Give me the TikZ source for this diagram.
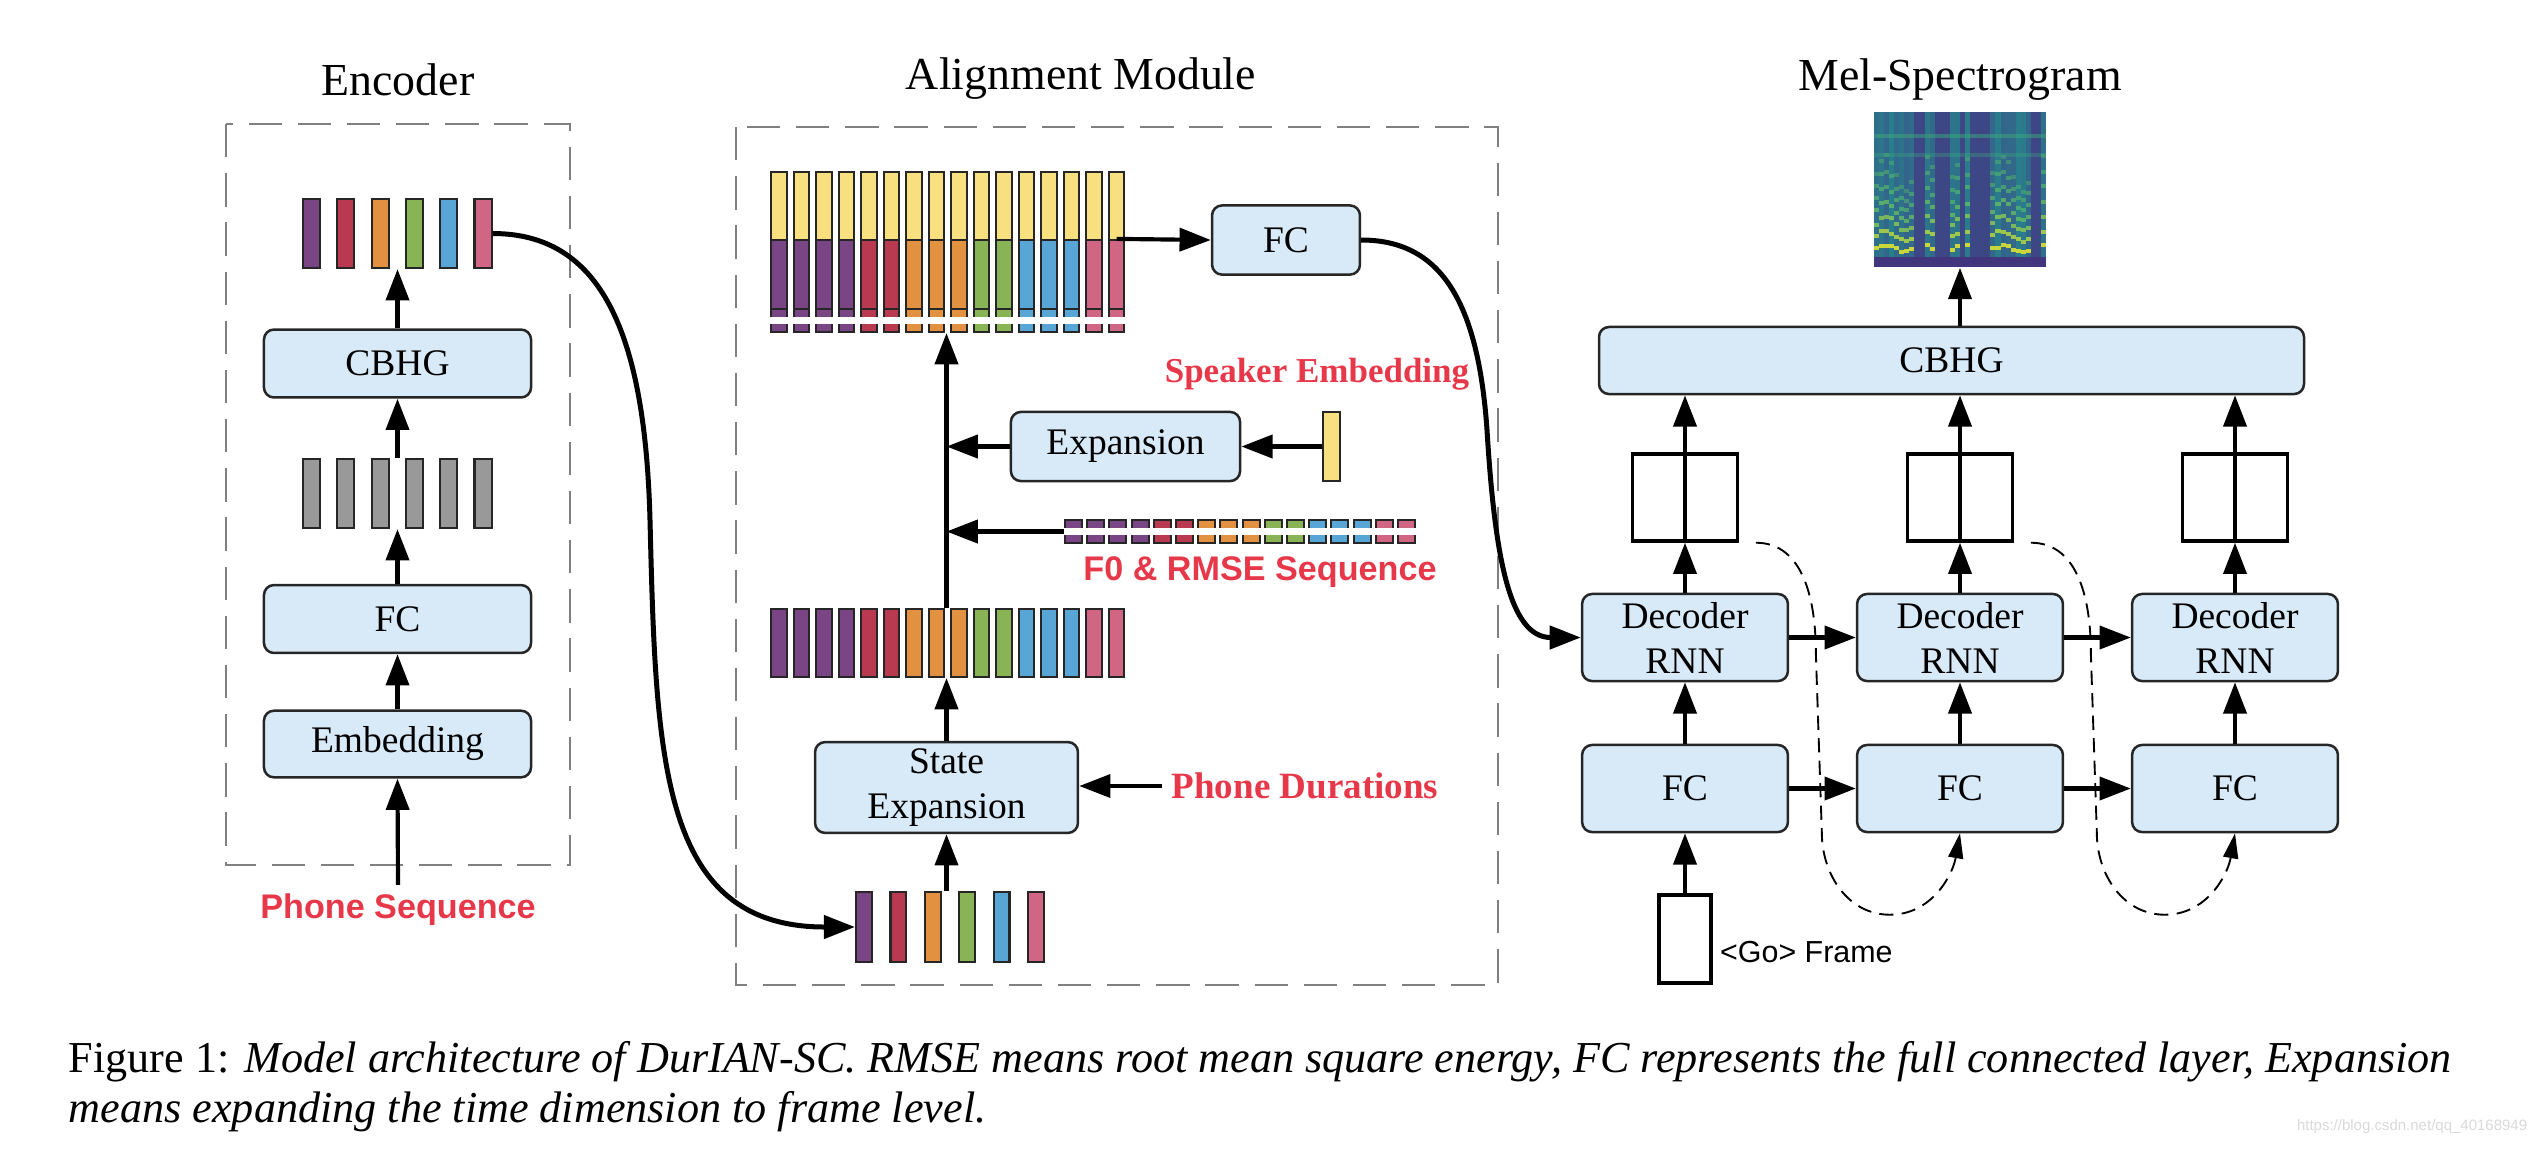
\documentclass[tikz,border=0pt]{standalone}
\usepackage{fontspec}
\setmainfont{Liberation Serif}
\newfontfamily\arialfont{Liberation Sans}
\usetikzlibrary{arrows.meta,positioning}

\definecolor{boxblue}{RGB}{216,234,248}
\definecolor{labelred}{RGB}{231,56,74}
\definecolor{framegray}{RGB}{128,128,128}
\definecolor{cpurple}{RGB}{122,69,132}
\definecolor{cred}{RGB}{185,57,80}
\definecolor{corange}{RGB}{225,145,63}
\definecolor{cgreen}{RGB}{136,180,86}
\definecolor{cblue}{RGB}{88,166,214}
\definecolor{cpink}{RGB}{208,102,132}
\definecolor{cyellow}{RGB}{248,223,128}
\definecolor{cgray}{RGB}{153,153,153}
\definecolor{specblue}{RGB}{59,82,139}
\definecolor{specteal}{RGB}{33,145,140}
\definecolor{specgreen}{RGB}{94,201,98}
\definecolor{specyellow}{RGB}{253,231,37}
\definecolor{specdark}{RGB}{68,40,120}

\newcommand{\phoneseq}{cpurple,cred,corange,cgreen,cblue,cpink}
\newcommand{\alignseq}{cpurple,cpurple,cpurple,cpurple,cred,cred,corange,corange,corange,cgreen,cgreen,cblue,cblue,cblue,cpink,cpink}

\tikzset{
    block/.style={draw=black!85, line width=0.6pt, fill=boxblue, rounded corners=2.4pt,
        align=center, inner sep=0pt, font=\fontsize{9}{10.8}\selectfont},
    bar/.style={draw=black!85, line width=0.5pt, fill=#1, inner sep=0pt,
        minimum width=4.1pt, minimum height=16.6pt},
    outbox/.style={draw, line width=0.8pt, fill=white, inner sep=0pt},
    frame/.style={draw=framegray, line width=0.5pt, dash pattern=on 8pt off 3.8pt},
    title/.style={inner sep=0pt, font=\fontsize{11}{13}\selectfont},
    redsans/.style={inner sep=2pt, text=labelred, font=\arialfont\bfseries\fontsize{8.2}{10}\selectfont},
    redserif/.style={inner sep=2pt, text=labelred, font=\bfseries\fontsize{#1}{10}\selectfont},
    redserif/.default=8.6,
    caption/.style={inner sep=0pt, anchor=west, font=\fontsize{10.6}{12.7}\selectfont},
    arr/.style={->, line width=1pt},
    link/.style={->, line width=1.2pt},
    feedback/.style={-{Triangle[length=6pt,width=3.6pt]}, line width=0.45pt, dash pattern=on 3.4pt off 2pt},
    gapline/.style={draw=white, line width=1.7pt}
}

\begin{document}
\begin{tikzpicture}[x=0.24pt, y=0.24pt, >={Triangle[length=7.5pt,width=5.5pt]}]
    \useasboundingbox (0,0) rectangle (2538,-1148);

    %%%%%%%%%%%%%%%%%%%%%%%%%%%%%%%%%%%%%%%%%%%%
    % Encoder
    %%%%%%%%%%%%%%%%%%%%%%%%%%%%%%%%%%%%%%%%%%%%

    % Drawing
    \node [title] (enc-title) at (398,-80) {Encoder};
    \draw [frame] (226,-124) rectangle (570,-865);

    \foreach \col [count=\k] in \phoneseq
        \node [bar=\col] (enc-out-\k) at ({311.5+34.3*(\k-1)},-233.5) {};
    \foreach \k in {1,...,6}
        \node [bar=cgray] (enc-gray-\k) at ({311.5+34.3*(\k-1)},-493.5) {};

    \node [block, minimum width=64.1pt, minimum height=16.3pt] (enc-cbhg) at (397.5,-363.5) {CBHG};
    \node [block, minimum width=64.1pt, minimum height=16.3pt] (enc-fc) at (397.5,-619) {FC};
    \node [block, minimum width=64.1pt, minimum height=16pt] (enc-emb) at (397.5,-744) {Embedding};
    \node [redsans] (phone-seq) at (398,-910) {Phone Sequence};

    % Connecting
    \draw [arr] (phone-seq.north) -- (enc-emb.south);
    \draw [arr] (enc-emb.north) -- (enc-fc.south);
    \draw [arr] (enc-fc.north) -- (enc-fc.north |- enc-gray-1.south);
    \draw [arr] (enc-cbhg.south |- enc-gray-1.north) -- (enc-cbhg.south);
    \draw [arr] (enc-cbhg.north) -- (enc-cbhg.north |- enc-out-1.south);

    %%%%%%%%%%%%%%%%%%%%%%%%%%%%%%%%%%%%%%%%%%%%
    % Alignment module
    %%%%%%%%%%%%%%%%%%%%%%%%%%%%%%%%%%%%%%%%%%%%

    % Drawing
    \node [title] (align-title) at (1081,-79) {Alignment Module};
    \draw [frame] (736,-127) rectangle (1498,-985);

    \foreach \col [count=\k] in \alignseq {
        \node [bar=cyellow, minimum width=3.8pt, minimum height=16.3pt] (top-\k) at ({779+22.5*(\k-1)},-206) {};
        \node [bar=\col, minimum width=3.8pt] (col-\k) at ({779+22.5*(\k-1)},-274.5) {};
        \node [bar=\col, minimum width=3.8pt, minimum height=5.5pt] (tail-\k) at ({779+22.5*(\k-1)},-320.5) {};
        \node [bar=\col, minimum width=3.8pt, minimum height=16.3pt] (mid-\k) at ({779+22.5*(\k-1)},-643) {};
        \node [bar=\col, minimum height=5.5pt] (f0-\k) at ({1073.5+22.2*(\k-1)},-531.5) {};
    }
    \draw [gapline] (tail-1.west) -- (tail-16.east);
    \draw [gapline] (f0-1.west) -- (f0-16.east);

    \foreach \col [count=\k] in \phoneseq
        \node [bar=\col, minimum width=3.8pt, minimum height=16.8pt] (al-in-\k) at ({864+34.4*(\k-1)},-927) {};
    \node [bar=cyellow] (spk) at (1331.5,-446.5) {};

    \node [block, minimum width=35.5pt, minimum height=16.6pt] (al-fc) at (1286,-240) {FC};
    \node [block, minimum width=55pt, minimum height=16.6pt] (exp) at (1125.5,-446.5) {Expansion};
    \node [block, minimum width=63.1pt, minimum height=21.8pt] (stexp) at (946.5,-787.5) {State\\Expansion};

    % Labeling
    \node [redserif=8.4] (spk-label) at (1317,-374) {Speaker Embedding};
    \node [redsans] (f0-label) at (1260,-572) {F0 \& RMSE Sequence};
    \node [redserif=8.9] (dur-label) at (1305,-786) {Phone Durations};

    % Connecting
    \draw [arr] (al-in-1.north -| stexp.south) -- (stexp.south);
    \draw [arr] (dur-label.west) -- (dur-label.west -| stexp.east);
    \draw [arr] (stexp.north) -- (stexp.north |- mid-1.south);
    \draw [arr] (stexp.north |- mid-1.north) -- (stexp.north |- tail-1.south);
    \draw [arr] (f0-1.west) -- (f0-1.west -| stexp.north);
    \draw [arr] (spk.west) -- (exp.east);
    \draw [arr] (exp.west) -- (exp.west -| stexp.north);
    \draw [arr] (col-16.north) -- (al-fc.west);

    % Encoder to alignment
    \draw [link] (enc-out-6.east) .. controls (600,-233.5) and (645,-330) .. (650,-520)
        .. controls (656,-760) and (660,-927) .. (al-in-1.west);

    %%%%%%%%%%%%%%%%%%%%%%%%%%%%%%%%%%%%%%%%%%%%
    % Decoder
    %%%%%%%%%%%%%%%%%%%%%%%%%%%%%%%%%%%%%%%%%%%%

    % Mel-spectrogram
    \node [title] (mel-title) at (1960,-80) {Mel-Spectrogram};
    \pgfmathsetseed{23}
    \fill [specblue] (1874,-112) rectangle (2046,-267);
    \foreach \c in {0,...,33} {
        \pgfmathsetmacro{\cmix}{int(random(25,70))}
        \pgfmathsetmacro{\voiced}{int(random(0,9))}
        \ifnum\voiced<3
            \fill [specblue!75!specdark] ({1874+5.06*\c},-112) rectangle ++(5.06,-155);
        \else
            \fill [specteal!\cmix!specblue] ({1874+5.06*\c},-112) rectangle ++(5.06,-155);
            \pgfmathsetmacro{\hgap}{12.5+2.5*sin(\c*47)}
            \foreach \r in {1,...,7} {
                \pgfmathsetmacro{\hlev}{int(max(0,100-22*\r))}
                \pgfmathsetmacro{\hy}{-259+\r*\hgap+random(-1,1)}
                \fill [specyellow!\hlev!specgreen, opacity={max(0.35,1-0.09*\r)}]
                    ({1874+5.06*\c},\hy) rectangle ++(5.06,-4);
            }
        \fi
    }
    \fill [specgreen!45!specteal, opacity=0.5] (1874,-134) rectangle (2046,-138);
    \fill [specgreen!45!specteal, opacity=0.35] (1874,-153) rectangle (2046,-157);
    \fill [specdark!70!specblue] (1874,-257) rectangle (2046,-267);
    \node [minimum width=41.3pt, minimum height=37.2pt, inner sep=0pt] (mel) at (1960,-189.5) {};

    % Drawing
    \node [block, minimum width=169.2pt, minimum height=16.1pt] (dec-cbhg) at (1951.5,-360.5) {CBHG};
    \foreach \k in {1,2,3} {
        \node [outbox, minimum width=25.2pt, minimum height=20.9pt] (sq-\k) at ({1685+275*(\k-1)},-497.5) {};
        \node [block, minimum width=49.4pt, minimum height=20.9pt] (dec-\k) at ({1685+275*(\k-1)},-637.5) {Decoder\\RNN};
        \node [block, minimum width=49.4pt, minimum height=20.9pt] (fc-\k) at ({1685+275*(\k-1)},-788.5) {FC};
    }
    \node [outbox, minimum width=12.5pt, minimum height=21.1pt] (go) at (1685,-939) {};
    \node [anchor=west, inner sep=0pt, font=\arialfont\fontsize{7.3}{8.8}\selectfont]
        (go-label) at ([xshift=1.6pt,yshift=-3.1pt]go.east) {<Go> Frame};

    % Connecting
    \draw [arr] (mel.south |- dec-cbhg.north) -- (mel.south);
    \draw [arr] (go.north) -- (fc-1.south);
    \foreach \k in {1,2,3} {
        \draw [arr] (fc-\k.north) -- (dec-\k.south);
        \draw [arr] (dec-\k.north) -- (sq-\k.south);
        \draw [arr] (sq-\k.south) -- (sq-\k.south |- dec-cbhg.south);
    }
    \foreach \i/\j in {1/2,2/3} {
        \draw [arr] (dec-\i.east) -- (dec-\j.west);
        \draw [arr] (fc-\i.east) -- (fc-\j.west);
        \draw [feedback] ([xshift=4pt]sq-\i.south east) to[out=0,in=90] ++(60,-110)
            -- ++(6,-180) to[out=-90,in=180] ++(68,-82) to[out=0,in=-100] (fc-\j.south);
    }

    % Alignment to decoder
    \draw [link] (al-fc.east) .. controls (1440,-240) and (1478,-300) .. (1487,-430)
        .. controls (1495,-560) and (1510,-637.5) .. (dec-1.west);

    %%%%%%%%%%%%%%%%%%%%%%%%%%%%%%%%%%%%%%%%%%%%
    % Caption
    %%%%%%%%%%%%%%%%%%%%%%%%%%%%%%%%%%%%%%%%%%%%
    \node [caption] (cap-1) at (68,-1062) {Figure 1: \textit{Model architecture of DurIAN-SC. RMSE means root mean square energy, FC represents the full connected layer, Expansion}};
    \node [caption] (cap-2) at (68,-1112) {\textit{means expanding the time dimension to frame level.}};
    \node [anchor=east, inner sep=0pt, text=black!15, font=\arialfont\fontsize{3.6}{4}\selectfont]
        (mark) at (2528,-1127) {https://blog.csdn.net/qq\_40168949};
\end{tikzpicture}
\end{document}
